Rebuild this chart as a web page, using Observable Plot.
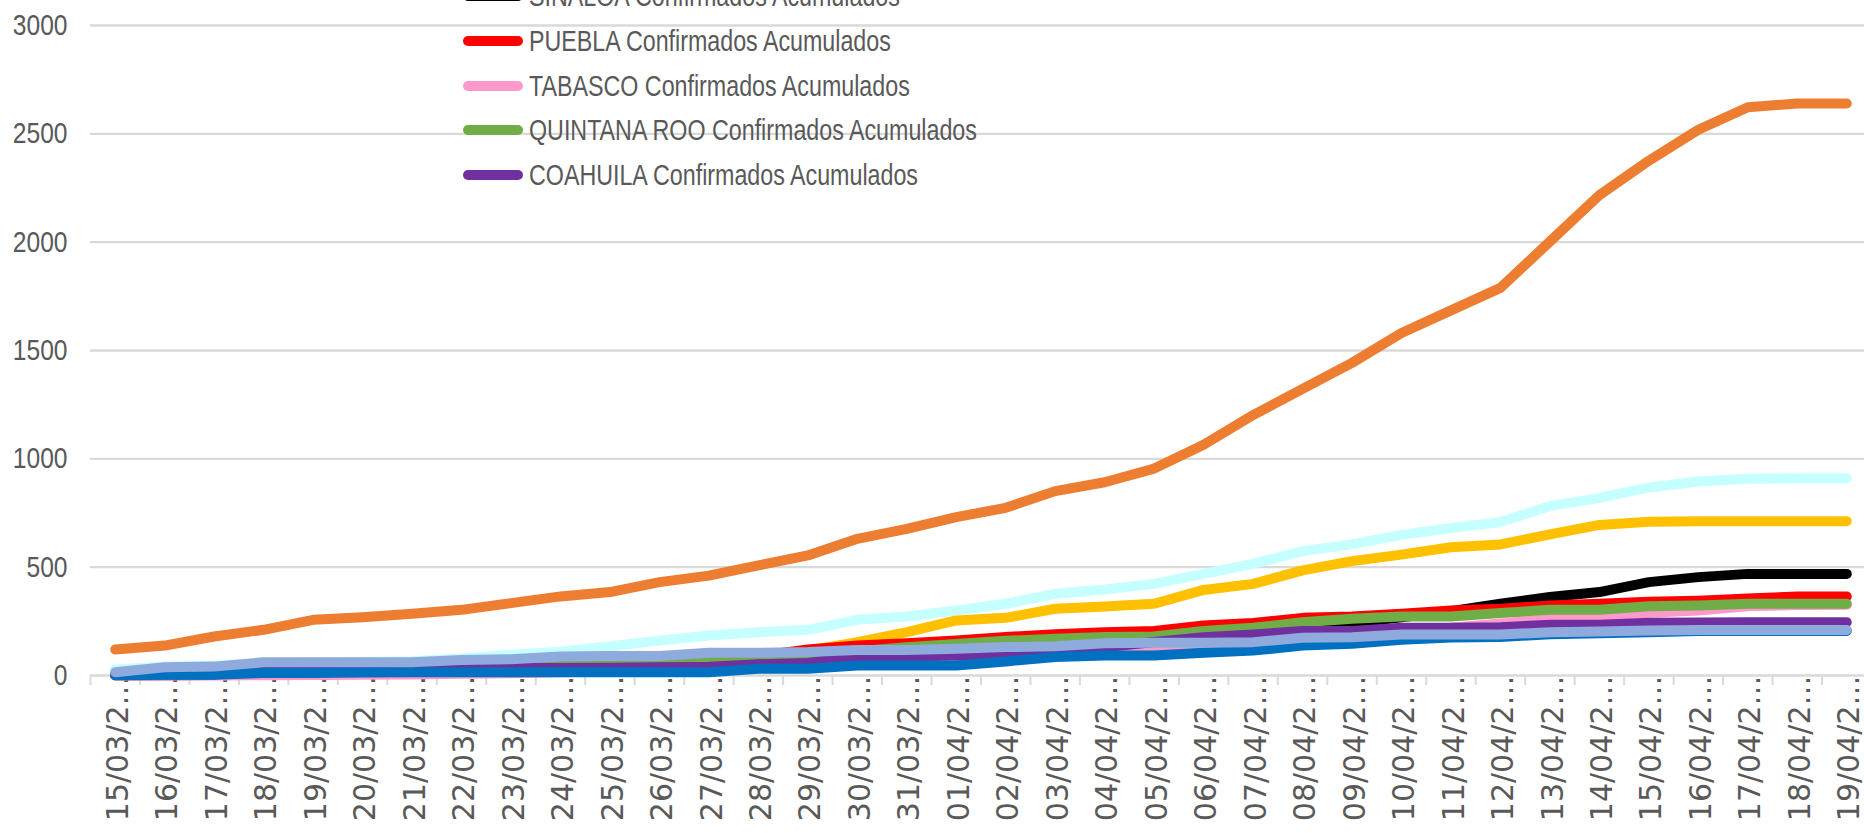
<!DOCTYPE html>
<html>
<head>
<meta charset="utf-8">
<script src="https://cdn.jsdelivr.net/npm/d3@7"></script>
<script src="https://cdn.jsdelivr.net/npm/@observablehq/plot@0.6"></script>
<style>
  html, body { margin: 0; padding: 0; background: #ffffff; overflow: hidden; }
  #wrap { position: relative; width: 1864px; height: 833px; }
  #legend { position: absolute; left: 0; top: 0; width: 0; height: 0; }
  .row { position: absolute; left: 463px; height: 0; display: flex; align-items: center; white-space: nowrap;
         font-family: 'Liberation Sans', Arial, sans-serif; font-size: 30px; color: #595959; }
  .sw { width: 60px; height: 10px; border-radius: 5px; margin-right: 6px; flex: none; }
  .lt { display: inline-block; transform: scaleX(0.775); transform-origin: 0 50%; }
</style>
</head>
<body>
<div id="wrap"><div id="legend"></div></div>
<script>
// Category labels (dates, truncated as in the source chart)
const dates = ["15/03/2020","16/03/2020","17/03/2020","18/03/2020","19/03/2020","20/03/2020","21/03/2020",
  "22/03/2020","23/03/2020","24/03/2020","25/03/2020","26/03/2020","27/03/2020","28/03/2020","29/03/2020",
  "30/03/2020","31/03/2020","01/04/2020","02/04/2020","03/04/2020","04/04/2020","05/04/2020","06/04/2020",
  "07/04/2020","08/04/2020","09/04/2020","10/04/2020","11/04/2020","12/04/2020","13/04/2020","14/04/2020",
  "15/04/2020","16/04/2020","17/04/2020","18/04/2020","19/04/2020"];

const yTicks = [0, 500, 1000, 1500, 2000, 2500, 3000];

// Series values (cumulative confirmed cases)
const cdmx = [120,138,180,211,257,269,285,303,334,365,385,431,461,508,554,631,677,731,774,851,892,955,1065,1202,1323,1443,1581,1685,1789,2003,2217,2376,2519,2623,2640,2640];
const edomex = [28,42,45,58,60,62,66,78,96,110,135,161,185,200,211,257,272,300,331,377,397,423,469,515,574,605,649,681,708,782,820,868,895,908,910,910];
const bajaCalifornia = [2,3,4,5,6,8,10,12,15,20,30,40,60,80,115,154,200,254,266,308,318,331,395,423,485,528,558,592,605,651,695,710,712,712,712,712];
const sinaloa = [0,1,2,3,5,8,10,15,18,22,28,35,45,55,65,80,95,110,130,150,165,175,190,200,215,242,269,297,331,362,385,431,454,469,469,469];
const puebla = [5,6,8,10,14,20,24,28,35,42,55,60,70,90,120,138,149,162,178,190,200,205,231,242,266,272,285,300,308,323,331,340,345,355,365,365];
const tabasco = [0,0,0,1,2,3,5,8,10,15,18,22,28,35,45,55,62,69,85,100,110,118,135,150,175,190,205,220,240,260,275,290,300,320,325,326];
const quintanaRoo = [5,6,8,15,20,25,35,45,50,58,58,60,72,75,82,112,130,145,160,170,178,180,205,220,246,262,272,272,288,303,303,320,323,331,331,331];
const coahuila = [2,5,5,25,25,28,30,30,35,35,36,38,40,52,58,85,88,92,100,108,130,155,177,189,205,205,220,220,223,234,234,243,245,246,246,246];
const jalisco = [2,4,4,12,12,14,15,15,15,15,15,15,15,31,31,46,46,46,65,85,92,92,105,115,138,146,165,175,178,190,195,200,205,205,205,205];
const yucatan = [15,38,41,61,61,61,61,72,75,88,90,90,105,105,108,118,118,123,131,135,149,151,151,154,174,177,189,189,189,200,203,208,210,210,210,210];

// Series names and colours, in drawing order (first = bottom)
const seriesNames = ["CIUDAD DE MÉXICO","MÉXICO","BAJA CALIFORNIA","SINALOA","PUEBLA","TABASCO","QUINTANA ROO","COAHUILA","JALISCO","YUCATÁN"];
const seriesValues = [cdmx, edomex, bajaCalifornia, sinaloa, puebla, tabasco, quintanaRoo, coahuila, jalisco, yucatan];
const seriesColors = ["#ED7D31","#C6FFFF","#FFC000","#000000","#FF0000","#FF99CC","#70AD47","#7030A0","#0070C0","#8FAADC"];

// Legend entries visible in the picture
const legendNames = ["SINALOA","PUEBLA","TABASCO","QUINTANA ROO","COAHUILA"];
const legendSuffix = " Confirmados Acumulados";

const idx = d3.range(dates.length);
const boundaries = d3.range(-0.5, dates.length, 1);
const shortLabel = i => dates[i].slice(0, 7) + "\u2026";

const chart = Plot.plot({
  width: 1864,
  height: 833,
  marginLeft: 90,
  marginRight: 0,
  marginTop: 25,
  marginBottom: 158,
  x: {type: "linear", domain: [-0.5, dates.length - 0.5], range: [90, 1871]},
  y: {domain: [0, 3000], range: [675, 25]},
  style: {background: "#ffffff", color: "#595959", overflow: "visible"},
  marks: [
    Plot.gridY(yTicks, {stroke: "#d9d9d9", strokeOpacity: 1, strokeWidth: 2.3}),
    Plot.axisY(yTicks, {tickSize: 0, tickPadding: 23, tickFormat: d => String(d), fontSize: 30,
      fontFamily: "'Liberation Sans', Arial, sans-serif", fill: "#595959", label: null}),
    Plot.axisX(boundaries, {tickSize: 10, tickFormat: () => "", stroke: "#d9d9d9", strokeWidth: 2, label: null}),
    Plot.axisX(idx, {tickSize: 0, tickPadding: 0, tickRotate: -90, tickFormat: shortLabel, fontSize: 30,
      fontFamily: "'DejaVu Sans', sans-serif", fill: "#595959", dx: 3, label: null}),
    ...seriesValues.map((vals, k) => Plot.line(vals, {
      x: (d, i) => i, y: d => d, stroke: seriesColors[k], strokeWidth: 10,
      strokeLinecap: "round", strokeLinejoin: "round"
    }))
  ]
});
document.getElementById("wrap").prepend(chart);

// Narrow the y tick labels horizontally (condensed look of the source)
d3.select(chart).selectAll('g[aria-label="y-axis tick label"] text').each(function() {
  const t = this.getAttribute("transform");
  if (t) {
    this.setAttribute("transform", t + " scale(0.82,1)");
  } else {
    const x = +this.getAttribute("x") || 0, y = +this.getAttribute("y") || 0;
    this.setAttribute("x", 0); this.setAttribute("y", 0);
    this.setAttribute("transform", `translate(${x},${y}) scale(0.82,1)`);
  }
});

// Legend (overlapping the plot area, as in the source)
const legend = d3.select("#legend");
legendNames.forEach((name, k) => {
  const row = legend.append("div").attr("class", "row").style("top", (-4 + k * 44.8) + "px");
  row.append("div").attr("class", "sw").style("background", seriesColors[seriesNames.indexOf(name)]);
  row.append("span").attr("class", "lt").text(name + legendSuffix);
});
</script>
</body>
</html>
